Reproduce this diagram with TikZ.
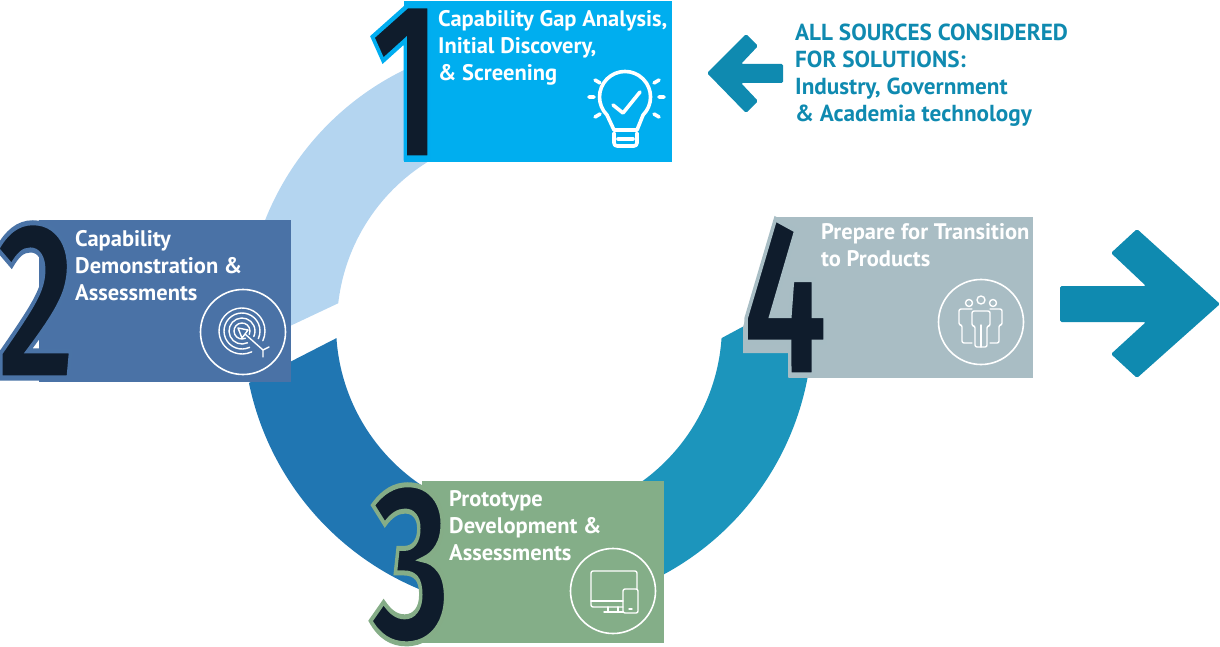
\documentclass[tikz,border=0pt]{standalone}
\usepackage{fontspec}
\setmainfont{PT Sans}
\newfontfamily\numfont{Fira Sans}
\usepackage{tikz}

\definecolor{lightband}{HTML}{B4D5F0}
\definecolor{blueband}{HTML}{2076B2}
\definecolor{tealband}{HTML}{1C95BC}
\definecolor{boxone}{HTML}{00AEEF}
\definecolor{boxtwo}{HTML}{4A72A6}
\definecolor{boxthree}{HTML}{84AE88}
\definecolor{boxfour}{HTML}{A9BDC4}
\definecolor{numdark}{HTML}{0F1C2C}
\definecolor{arrowteal}{HTML}{0F8AB0}

% pdf stroke over the glyph, for the outlined numerals
\newcommand{\outlined}[1]{\special{pdf:code 2 Tr 5 w #1 RG}}

\tikzset{
	stepbox/.style={rectangle, inner sep=0pt, anchor=north west},
	steplabel/.style={anchor=north west, align=left, inner sep=0pt, text=white, font=\fontsize{22.5}{27}\selectfont\bfseries},
	stepnum/.style={anchor=base, inner sep=0pt, text=numdark, font=\fontsize{225}{225}\selectfont\numfont\bfseries, xscale=0.68, transform shape},
	iconring/.style={circle, draw=white, line width=1.6pt, minimum size=85pt, inner sep=0pt},
	iconline/.style={draw=white, line width=1.4pt, line join=round, line cap=round},
	bigarrow/.style={fill=arrowteal, rounded corners=1.5pt},
}

\begin{document}
\begin{tikzpicture}[x=1pt, y=-1pt]
	\useasboundingbox (0,0) rectangle (1220,647);

	% Ring
	\coordinate (hub) at (529,325);
	\fill[lightband] (hub) ++(175.6:284) arc[start angle=175.6, end angle=285, radius=284]
		-- ([shift={(285:192)}]hub) arc[start angle=285, end angle=186.5, radius=192] -- cycle;
	\fill[blueband] (hub) ++(168.3:286) arc[start angle=168.3, end angle=90, radius=286]
		-- ([shift={(90:193)}]hub) arc[start angle=90, end angle=176.1, radius=193] -- cycle;
	\fill[tealband] (hub) ++(90:283.5) arc[start angle=90, end angle=-7, radius=283.5]
		-- ([shift={(3.9:193)}]hub) arc[start angle=3.9, end angle=90, radius=193] -- cycle;

	% Boxes
	\node[stepbox, fill=boxone, minimum width=268pt, minimum height=161pt] (box1) at (404,1) {};
	\node[stepbox, fill=boxtwo, minimum width=252pt, minimum height=162pt] (box2) at (39,220) {};
	\node[stepbox, fill=boxthree, minimum width=242pt, minimum height=162pt] (box3) at (422,481) {};
	\fill[boxfour] (790,217) -- (777,217) -- (743,327) -- (743,353) -- (790,353) -- cycle;
	\node[stepbox, fill=boxfour, minimum width=244pt, minimum height=161pt] (box4) at (789,217) {};

	% Numerals
	\node[stepnum] (num1) at (406,158) {\outlined{0 0.68 0.94}1};
	\node[stepnum] (num2) at (36,378) {\outlined{0.29 0.45 0.65}2};
	\node[stepnum] (num3) at (411,640) {\outlined{0.52 0.68 0.53}3};
	\node[stepnum] (num4) at (785,375) {\outlined{0.66 0.74 0.77}4};

	% Labels
	\node[steplabel] (label1) at (438,10.5) {Capability Gap Analysis,\\Initial Discovery,\\\& Screening};
	\node[steplabel] (label2) at (75,230.5) {Capability\\Demonstration \&\\Assessments};
	\node[steplabel] (label3) at (449,490) {Prototype\\Development \&\\Assessments};
	\node[steplabel] (label4) at (821,223.5) {Prepare for Transition\\to Products};
	\node[steplabel, text=arrowteal, font=\fontsize{23.2}{27}\selectfont\bfseries] (sources) at (795,24) {ALL SOURCES CONSIDERED\\FOR SOLUTIONS:\\Industry, Government\\\& Academia technology};

	% Arrows
	\fill[bigarrow] (783,64) -- (741,64) -- (758,46) -- (746,34) -- (707,73) -- (746,113) -- (758,101) -- (741,83) -- (783,83) -- cycle;
	\fill[bigarrow] (1060,286) -- (1146,286) -- (1111,253) -- (1137,229) -- (1220,304) -- (1137,378) -- (1111,354) -- (1146,322) -- (1060,322) -- cycle;

	% Bulb icon
	\begin{scope}[draw=white, line width=3.6pt, line cap=round, line join=round]
		\draw (607,115) arc[start angle=135, end angle=405, radius=25.5] -- (637,130) -- (614,130) -- cycle;
		\draw[rounded corners=3pt] (614,133) -- (614,146) -- (637,146) -- (637,133);
		\draw (618,139) -- (633,139);
		\draw (613,105) -- (623,113) -- (640,92);
		\draw (589,97) -- (594,97) (595,80) -- (600,83) (595,117) -- (600,114);
		\draw (659,97) -- (664,97) (654,83) -- (659,80) (654,114) -- (659,117);
	\end{scope}

	% Target icon
	\node[iconring] (target) at (243,332) {};
	\foreach \rad in {8,13,18,23}
		\draw[iconline] (242,331) ++(65:\rad) arc[start angle=65, end angle=385, radius=\rad];
	\draw[iconline] (238,328) -- (248,330) -- (242,338) -- cycle (245,334) -- (263,350) (269,347) -- (263,350) -- (263,357);

	% Device icon
	\node[iconring] (device) at (613,591) {};
	\draw[iconline, rounded corners=2pt] (623,607) -- (591,607) -- (591,571) -- (637,571) -- (637,589);
	\draw[iconline] (591,601) -- (623,601) (608,607) -- (608,612) (618,607) -- (618,612) (604,612) -- (623,612);
	\draw[iconline, rounded corners=2pt] (623,589) rectangle (638,613);
	\draw[iconline] (629,609) -- (632,609);

	% People icon
	\node[iconring] (people) at (981,322) {};
	\draw[iconline] (969,303) circle[radius=3.5] (981,300) circle[radius=4] (993,303) circle[radius=3.5];
	\draw[iconline, rounded corners=2pt] (972,326) -- (972,311) -- (990,311) -- (990,326) -- (987,326) -- (987,347) -- (975,347) -- (975,326) -- cycle;
	\draw[iconline] (981,325) -- (981,347);
	\draw[iconline, rounded corners=2pt] (972,309) -- (959,309) -- (959,325) -- (962,325) -- (962,343) -- (972,343);
	\draw[iconline, rounded corners=2pt] (990,309) -- (1002,309) -- (1002,325) -- (999,325) -- (999,343) -- (990,343);
\end{tikzpicture}
\end{document}
